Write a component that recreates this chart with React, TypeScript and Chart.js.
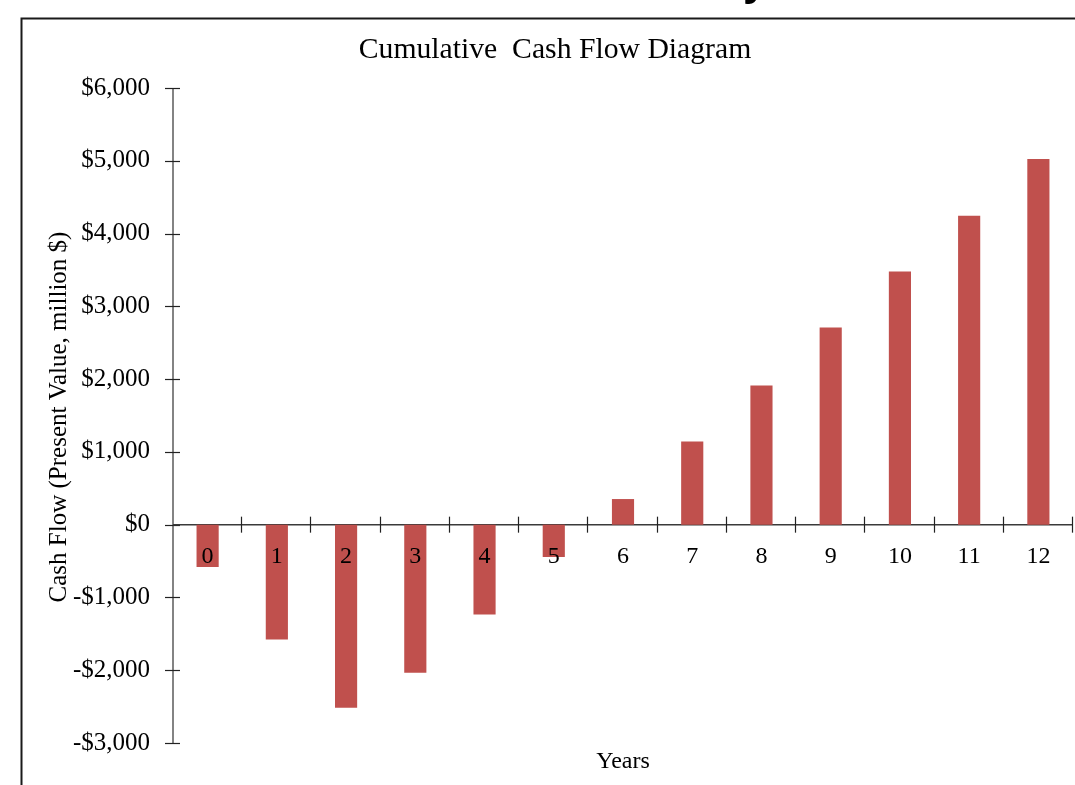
import React, { useEffect, useRef } from "react";
import { Chart, registerables } from "chart.js";

Chart.register(...registerables);

// ---- Data ----
const years: string[] = ["0", "1", "2", "3", "4", "5", "6", "7", "8", "9", "10", "11", "12"];
const cumulativeCashFlow: number[] = [-580, -1578, -2516, -2036, -1235, -444, 352, 1143, 1912, 2709, 3477, 4246, 5024];
const yMin = -3000;
const yMax = 6000;
const yStep = 1000;
const chartTitle = "Cumulative  Cash Flow Diagram";
const yAxisTitle = "Cash Flow (Present Value, million $)";
const xAxisTitle = "Years";

const SERIF = '"Liberation Serif", "Times New Roman", serif';

function formatDollar(v: number): string {
  const s = "$" + Math.abs(v).toLocaleString("en-US");
  return v < 0 ? "-" + s : s;
}

const decorPlugin = {
  id: "decor",
  beforeDatasetsDraw(chart: any) {
    const ctx = chart.ctx;
    const x = chart.scales.x;
    const y = chart.scales.y;
    const y0 = y.getPixelForValue(0);
    ctx.save();
    // outer frame (left & top edges)
    ctx.strokeStyle = "#1a1a1a";
    ctx.lineWidth = 2;
    ctx.beginPath();
    ctx.moveTo(21.5, 785);
    ctx.lineTo(21.5, 18.5);
    ctx.lineTo(1075, 18.5);
    ctx.stroke();

    // y axis line
    ctx.strokeStyle = "#5a5a5a";
    ctx.lineWidth = 1.5;
    ctx.beginPath();
    ctx.moveTo(x.left, y.top);
    ctx.lineTo(x.left, y.bottom);
    ctx.stroke();
    // y ticks (crossing)
    ctx.strokeStyle = "#222";
    ctx.lineWidth = 1.2;
    for (let v = yMin; v <= yMax; v += yStep) {
      const py = Math.round(y.getPixelForValue(v)) + 0.5;
      ctx.beginPath();
      ctx.moveTo(x.left - 8, py);
      ctx.lineTo(x.left + 7, py);
      ctx.stroke();
    }
    // x axis line at zero
    ctx.strokeStyle = "#3a3a3a";
    ctx.lineWidth = 1.5;
    ctx.beginPath();
    ctx.moveTo(x.left, y0);
    ctx.lineTo(x.right, y0);
    ctx.stroke();
    // x ticks at category boundaries (crossing)
    ctx.strokeStyle = "#222";
    ctx.lineWidth = 1.2;
    const n = years.length;
    const w = (x.right - x.left) / n;
    for (let i = 1; i <= n; i++) {
      const px = Math.round(x.left + i * w) - 0.5;
      ctx.beginPath();
      ctx.moveTo(px, y0 - 8);
      ctx.lineTo(px, y0 + 8);
      ctx.stroke();
    }
    ctx.restore();
  },
  afterDraw(chart: any) {
    const ctx = chart.ctx;
    const x = chart.scales.x;
    ctx.save();
    ctx.fillStyle = "#000";
    // main title
    ctx.font = "29.7px " + SERIF;
    ctx.textAlign = "center";
    ctx.textBaseline = "alphabetic";
    ctx.fillText(chartTitle, 555, 58);
    // x axis title
    ctx.font = "24px " + SERIF;
    ctx.fillText(xAxisTitle, (x.left + x.right) / 2, 768);
    // y axis title
    ctx.save();
    ctx.font = "25px " + SERIF;
    ctx.translate(59, 417);
    ctx.rotate(-Math.PI / 2);
    ctx.textBaseline = "middle";
    ctx.fillText(yAxisTitle, 0, 0);
    ctx.restore();
    // cropped heading glyph above the frame
    ctx.font = 'bold 44px "Liberation Sans", Arial, sans-serif';
    ctx.textAlign = "left";
    ctx.textBaseline = "alphabetic";
    ctx.fillText("y", 743, -5);
    ctx.restore();
  },
};

export default function App() {
  const canvasRef = useRef<HTMLCanvasElement | null>(null);

  useEffect(() => {
    if (!canvasRef.current) return;
    const chart = new Chart(canvasRef.current, {
      type: "bar",
      data: {
        labels: years,
        datasets: [
          {
            label: "Cumulative Cash Flow",
            data: cumulativeCashFlow,
            backgroundColor: "#C0504D",
            borderWidth: 0,
            barPercentage: 0.32,
            categoryPercentage: 1,
          },
        ],
      },
      options: {
        animation: false,
        responsive: false,
        devicePixelRatio: 1,
        layout: { padding: { top: 88, bottom: 42, left: 0, right: 2 } },
        plugins: {
          legend: { display: false },
          title: { display: false },
          tooltip: { enabled: false },
        },
        scales: {
          x: {
            position: { y: 0 } as any,
            grid: { display: false, drawTicks: false },
            border: { display: false },
            ticks: {
              z: 1,
              color: "#000",
              font: { family: SERIF, size: 24 },
              padding: 18,
              maxRotation: 0,
              autoSkip: false,
            },
          },
          y: {
            min: yMin,
            max: yMax,
            grid: { display: false, drawTicks: false },
            border: { display: false },
            afterFit: (scale: any) => {
              scale.width = 173;
            },
            ticks: {
              stepSize: yStep,
              color: "#000",
              font: { family: SERIF, size: 25 },
              padding: 23,
              callback: (v: any) => formatDollar(Number(v)),
            },
          },
        },
      },
      plugins: [decorPlugin],
    });
    return () => chart.destroy();
  }, []);

  return (
    <div style={{ position: "fixed", left: 0, top: 0, width: 1075, height: 785, background: "#fff" }}>
      <canvas ref={canvasRef} width={1075} height={785} style={{ display: "block" }} />
    </div>
  );
}
